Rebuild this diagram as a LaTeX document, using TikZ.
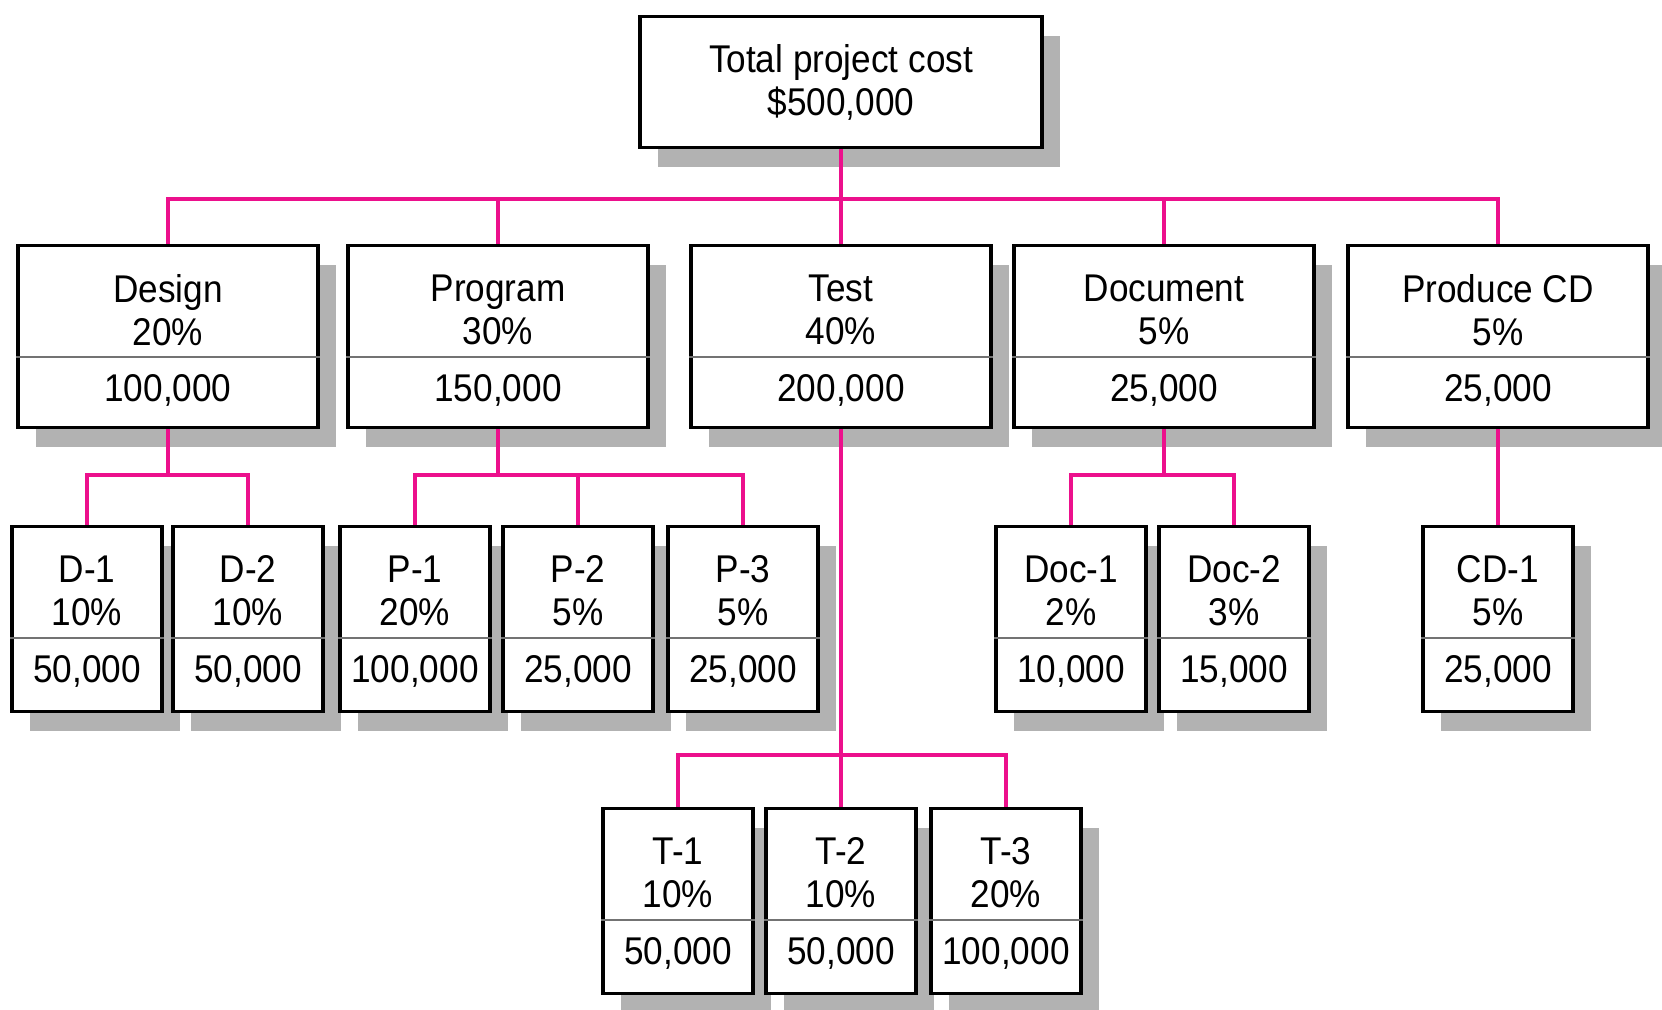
\documentclass[tikz,border=0pt]{standalone}
\usepackage{fontspec}
\setmainfont{Liberation Sans}[FakeStretch=0.91]
\usepackage{tikz}
\usetikzlibrary{calc,shadows}
\definecolor{wbspink}{RGB}{236,16,140}
\definecolor{shadowgray}{RGB}{178,178,178}
\tikzset{
  wbsbox/.style   = {draw,line width=0.9pt,fill=white,inner sep=0pt,align=center,
                     font=\fontsize{11}{12.2}\selectfont,
                     drop shadow={shadow xshift=0.18cm,shadow yshift=-0.19cm,fill=shadowgray,opacity=1}},
  taskbox/.style  = {wbsbox,anchor=north,minimum width=3.0cm,minimum height=1.82cm},
  subbox/.style   = {wbsbox,anchor=north,minimum width=1.5cm,minimum height=1.85cm},
  cellline/.style = {black!55,line width=0.6pt},
  celltext/.style = {inner sep=0pt,align=center,font=\fontsize{11}{12.2}\selectfont},
  link/.style     = {wbspink,line width=0.9pt},
  wbsedge/.style  = {to path={-- ($(\tikztostart |- \tikztotarget)+(0,#1)$) -| (\tikztotarget)}},
  wbsedge/.default = 0.5
}
% box: name and share above the rule, amount below it
\newcommand{\costbox}[5]{%
  \node[#2] (#1) at (#3) {};
  \draw[cellline] ($(#1.north west)+(0,-1.13)$) -- ($(#1.north east)+(0,-1.13)$);
  \node[celltext] (#1-head) at ($(#1.north)+(0,-0.66)$) {#4};
  \node[celltext,anchor=base] (#1-amount) at ($(#1.north)+(0,-1.57)$) {#5};
}

\begin{document}
\begin{tikzpicture}
  \path[use as bounding box] (0,0) rectangle (16.62,-10.09);
  \node[wbsbox,anchor=north,minimum width=4.02cm,minimum height=1.31cm] (total)
    at (8.41,-0.15) {Total project cost\\\$500,000};

  \costbox{design}{taskbox}{1.68,-2.44}{Design\\20\%}{100,000}
  \costbox{program}{taskbox}{4.98,-2.44}{Program\\30\%}{150,000}
  \costbox{test}{taskbox}{8.41,-2.44}{Test\\40\%}{200,000}
  \costbox{document}{taskbox}{11.64,-2.44}{Document\\5\%}{25,000}
  \costbox{produce}{taskbox}{14.98,-2.44}{Produce CD\\5\%}{25,000}

  \costbox{d1}{subbox}{0.87,-5.25}{D-1\\10\%}{50,000}
  \costbox{d2}{subbox}{2.48,-5.25}{D-2\\10\%}{50,000}
  \costbox{p1}{subbox}{4.15,-5.25}{P-1\\20\%}{100,000}
  \costbox{p2}{subbox}{5.78,-5.25}{P-2\\5\%}{25,000}
  \costbox{p3}{subbox}{7.43,-5.25}{P-3\\5\%}{25,000}
  \costbox{doc1}{subbox}{10.71,-5.25}{Doc-1\\2\%}{10,000}
  \costbox{doc2}{subbox}{12.34,-5.25}{Doc-2\\3\%}{15,000}
  \costbox{cd1}{subbox}{14.98,-5.25}{CD-1\\5\%}{25,000}

  \costbox{t1}{subbox}{6.78,-8.07}{T-1\\10\%}{50,000}
  \costbox{t2}{subbox}{8.41,-8.07}{T-2\\10\%}{50,000}
  \costbox{t3}{subbox}{10.06,-8.07}{T-3\\20\%}{100,000}

  % connectors
  \foreach \task in {design,program,test,document,produce}
    \draw[link] (total.south) to[wbsedge=0.45] (\task.north);
  \foreach \sub in {d1,d2}
    \draw[link] (design.south) to[wbsedge] (\sub.north);
  \foreach \sub in {p1,p2,p3}
    \draw[link] (program.south) to[wbsedge] (\sub.north);
  \foreach \sub in {doc1,doc2}
    \draw[link] (document.south) to[wbsedge] (\sub.north);
  \draw[link] (produce.south) to[wbsedge] (cd1.north);
  \foreach \sub in {t1,t2,t3}
    \draw[link] (test.south) to[wbsedge=0.52] (\sub.north);
\end{tikzpicture}
\end{document}
